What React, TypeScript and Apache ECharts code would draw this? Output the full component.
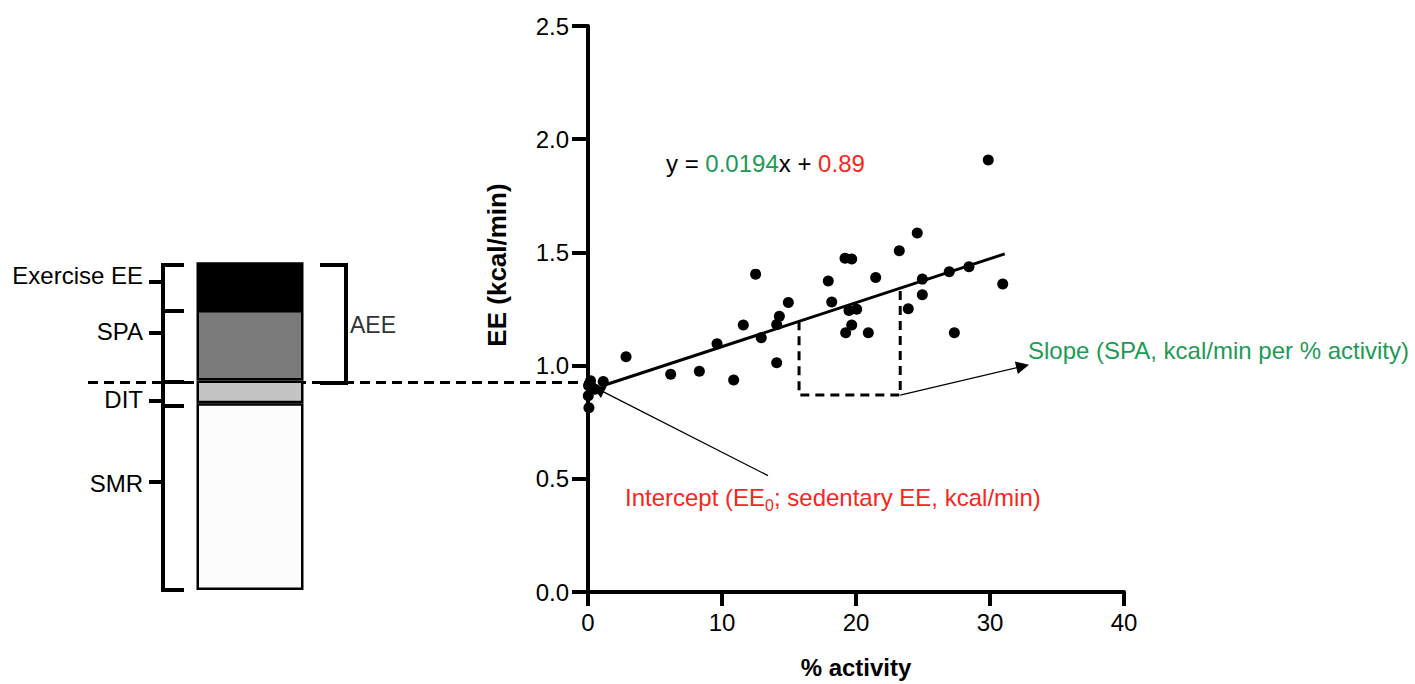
import React, { useEffect, useRef } from "react";
import * as echarts from "echarts";

// ---- scatter data: % activity vs EE (kcal/min)
const activityPct = [
  29.87, 24.57, 23.23, 19.18, 19.68, 12.51, 21.47, 17.93, 28.43, 26.96,
  24.95, 30.95, 14.95, 18.19, 24.95, 23.9, 20.05, 19.48, 14.28, 14.08,
  11.59, 19.68, 20.92, 19.23, 27.34, 12.93, 9.63, 2.84, 14.08, 6.17,
  8.31, 10.87, 0.19, 1.14, 0.02, 0.07, 0.28, 0.52, 0.04,
];
const eeKcal = [
  1.908, 1.586, 1.507, 1.474, 1.471, 1.404, 1.389, 1.374, 1.437, 1.415,
  1.382, 1.36, 1.279, 1.281, 1.313, 1.251, 1.249, 1.243, 1.218, 1.181,
  1.179, 1.179, 1.145, 1.145, 1.145, 1.123, 1.096, 1.039, 1.013, 0.962,
  0.975, 0.936, 0.933, 0.93, 0.867, 0.814, 0.904, 0.896, 0.912,
];

// regression
const SLOPE = 0.0194;
const INTERCEPT = 0.89;
const fitRangeX = [1.2, 31.1];

// slope triangle annotation
const triX = [15.75, 23.3];
const triBaseY = 0.87;
const slopeArrowEnd = [32.44, 0.997];
const interceptArrowStart = [13.43, 0.514];
const interceptArrowEnd = [0.75, 0.896];

// axis ticks
const xTicks = [0, 10, 20, 30, 40];
const yTicks = [0, 0.5, 1.0, 1.5, 2.0, 2.5];

// left schematic bar: components of EE (kcal/min)
const componentNames = ["SMR", "DIT", "SPA", "Exercise EE"];
const componentValues = [0.82, 0.1, 0.31, 0.21];
const componentColors = ["#fcfcfc", "#c4c4c4", "#7a7a7a", "#000000"];

const FONT = "'Liberation Sans', Arial, Helvetica, sans-serif";
const GREEN = "#1d9a56";
const RED = "#f8261c";

export default function App() {
  const ref = useRef<HTMLDivElement>(null);
  useEffect(() => {
    if (!ref.current) return;
    const chart = echarts.init(ref.current, undefined, { renderer: "svg" });
    const fit = (x: number) => SLOPE * x + INTERCEPT;
    const points = activityPct.map((x, i) => [x, eeKcal[i]]);

    const hLine = (x1: number, x2: number, y: number, w = 4) => ({
      type: "line",
      shape: { x1, y1: y, x2, y2: y },
      style: { stroke: "#000", lineWidth: w },
    });
    const vLine = (x: number, y1: number, y2: number, w = 4) => ({
      type: "line",
      shape: { x1: x, y1, x2: x, y2 },
      style: { stroke: "#000", lineWidth: w },
    });
    const leftLabel = (text: string, y: number) => ({
      type: "text",
      x: 143,
      y,
      style: {
        text,
        font: `24px ${FONT}`,
        fill: "#000",
        align: "right",
        verticalAlign: "middle",
      },
    });

    const option: any = {
      animation: false,
      textStyle: { fontFamily: FONT },
      grid: [
        { left: 588, right: 291, top: 26, bottom: 89 },
        { left: 195, width: 110, top: 21, height: 569 },
      ],
      xAxis: [
        {
          type: "value",
          gridIndex: 0,
          min: xTicks[0],
          max: xTicks[xTicks.length - 1],
          interval: 10,
          splitLine: { show: false },
          axisLine: { show: true, onZero: false, lineStyle: { color: "#000", width: 4 } },
          axisTick: { show: true, length: 14, lineStyle: { color: "#000", width: 4 } },
          axisLabel: { color: "#000", fontSize: 24, fontFamily: FONT, margin: 18 },
          name: "% activity",
          nameLocation: "middle",
          nameGap: 63,
          nameTextStyle: { color: "#000", fontSize: 24, fontWeight: "bold", fontFamily: FONT },
        },
        {
          type: "category",
          gridIndex: 1,
          data: ["EE"],
          show: false,
        },
      ],
      yAxis: [
        {
          type: "value",
          gridIndex: 0,
          min: yTicks[0],
          max: yTicks[yTicks.length - 1],
          interval: 0.5,
          splitLine: { show: false },
          axisLine: { show: true, onZero: false, lineStyle: { color: "#000", width: 4 } },
          axisTick: { show: true, length: 16, lineStyle: { color: "#000", width: 4 } },
          axisLabel: {
            color: "#000",
            fontSize: 24,
            fontFamily: FONT,
            margin: 19,
            formatter: (v: number) => v.toFixed(1),
          },
        },
        {
          type: "value",
          gridIndex: 1,
          min: 0,
          max: 2.5,
          show: false,
        },
      ],
      series: [
        {
          type: "scatter",
          xAxisIndex: 0,
          yAxisIndex: 0,
          data: points,
          symbolSize: 11,
          itemStyle: { color: "#000", opacity: 1 },
          z: 5,
        },
        {
          type: "line",
          xAxisIndex: 0,
          yAxisIndex: 0,
          data: fitRangeX.map((x) => [x, fit(x)]),
          symbol: "none",
          lineStyle: { color: "#000", width: 3 },
          z: 4,
        },
        {
          type: "line",
          xAxisIndex: 0,
          yAxisIndex: 0,
          data: [
            [triX[0], fit(triX[0])],
            [triX[0], triBaseY],
            [triX[1], triBaseY],
            [triX[1], fit(triX[1])],
          ],
          symbol: "none",
          lineStyle: { color: "#000", width: 3, type: [9, 6] },
          markLine: {
            silent: true,
            symbol: ["none", "triangle"],
            symbolSize: 13,
            label: { show: false },
            itemStyle: { color: "#000" },
            lineStyle: { color: "#000", width: 1.3, type: "solid" },
            data: [
              [{ coord: [triX[1], triBaseY] }, { coord: slopeArrowEnd }],
              [{ coord: interceptArrowStart }, { coord: interceptArrowEnd }],
            ],
          },
          z: 3,
        },
        ...componentNames.map((name, i) => ({
          type: "bar",
          name,
          xAxisIndex: 1,
          yAxisIndex: 1,
          stack: "ee",
          barWidth: 107,
          data: [componentValues[i]],
          itemStyle: {
            color: componentColors[i],
            borderColor: "#000",
            borderWidth: 2.5,
          },
        })),
      ],
      graphic: [
        // y axis title
        {
          type: "text",
          x: 497,
          y: 265,
          rotation: Math.PI / 2,
          style: {
            text: "EE (kcal/min)",
            font: `bold 26px ${FONT}`,
            fill: "#000",
            align: "center",
            verticalAlign: "middle",
          },
        },
        // equation
        {
          type: "text",
          x: 666,
          y: 163,
          style: {
            text: "{k|y = }{g|0.0194}{k|x + }{r|0.89}",
            verticalAlign: "middle",
            rich: {
              k: { fontSize: 24, fontFamily: FONT, fill: "#000", color: "#000" },
              g: { fontSize: 24, fontFamily: FONT, fill: GREEN, color: GREEN },
              r: { fontSize: 24, fontFamily: FONT, fill: RED, color: RED },
            },
          },
        },
        // slope label
        {
          type: "text",
          x: 1028,
          y: 350,
          style: {
            text: "Slope (SPA, kcal/min per % activity)",
            font: `24px ${FONT}`,
            fill: GREEN,
            verticalAlign: "middle",
          },
        },
        // intercept label
        {
          type: "text",
          x: 625,
          y: 500,
          style: {
            text: "{a|Intercept (EE}{s|0}{a|; sedentary EE, kcal/min)}",
            verticalAlign: "middle",
            rich: {
              a: { fontSize: 24, fontFamily: FONT, fill: RED, color: RED, lineHeight: 30, verticalAlign: "top" },
              s: { fontSize: 16, fontFamily: FONT, fill: RED, color: RED, lineHeight: 30, verticalAlign: "top", padding: [12, 0, 0, 0] },
            },
          },
        },
        // horizontal dashed link from bar to y axis
        {
          type: "line",
          shape: { x1: 88, y1: 382.5, x2: 588, y2: 382.5 },
          style: { stroke: "#000", lineWidth: 3, lineDash: [10, 6] },
        },
        // left bracket
        vLine(163, 263, 592),
        hLine(161, 184, 265),
        hLine(161, 184, 311),
        hLine(161, 184, 382),
        hLine(163, 184, 406),
        hLine(161, 184, 590),
        hLine(149, 163, 282),
        hLine(149, 163, 333),
        hLine(149, 163, 401),
        hLine(149, 163, 482),
        leftLabel("Exercise EE", 275),
        leftLabel("SPA", 331),
        leftLabel("DIT", 399),
        leftLabel("SMR", 483),
        // AEE bracket
        vLine(346, 263, 385),
        hLine(320, 348, 265),
        hLine(320, 348, 383),
        {
          type: "text",
          x: 350,
          y: 325,
          style: {
            text: "AEE",
            font: `23px ${FONT}`,
            fill: "#333",
            verticalAlign: "middle",
          },
        },
      ],
    };
    chart.setOption(option);
    return () => chart.dispose();
  }, []);
  return (
    <div
      ref={ref}
      style={{ position: "fixed", left: 0, top: 0, width: 1415, height: 684, background: "#fff" }}
    />
  );
}
